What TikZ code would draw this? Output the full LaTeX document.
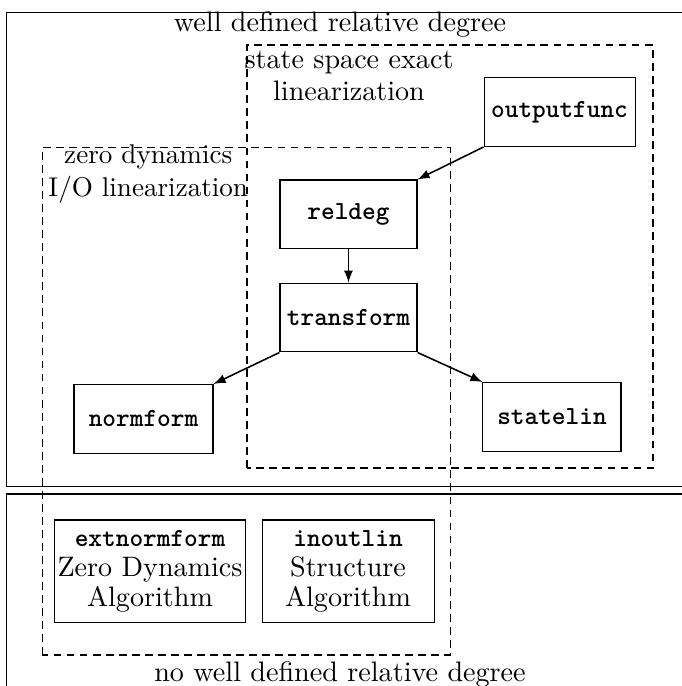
\documentclass[tikz,border=0pt]{standalone}
\usepackage{fontspec}
\usetikzlibrary{arrows,positioning}

\newcommand{\prog}[1]{{\fontsize{10}{11}\selectfont\ttfamily\bfseries #1}}

\begin{document}
\begin{tikzpicture}
	[
	font=\fontsize{10.8}{11.5}\selectfont,
	box/.style={rectangle,draw=black,fill=none,inner sep=1pt,minimum height=0.93cm},
	cmd/.style={font=\fontsize{10}{11}\selectfont\ttfamily\bfseries},
	label/.style={draw=none,fill=none,align=center,font=\fontsize{10.8}{12.5}\selectfont},
	region/.style={dash pattern=on 3pt off 2pt},
	arrow/.style={
           ->,
           >=latex,
           semithick}
	]
		\useasboundingbox (0,0) rectangle (9.2,9.254);

		% frames
		\draw (9.4,9.086) -- (0.094,9.086) -- (0.094,2.685) -- (9.4,2.685);
		\draw (9.4,2.590) -- (0.094,2.590) -- (0.094,-0.2);

		% dashed regions
		\draw[region] (3.332,2.941) rectangle (8.809,8.647);
		\draw[region] (0.567,0.418) rectangle (6.071,7.258);

		% labels
		\node[label] (l1) at 		(4.587, 8.917) {well defined relative degree};
		\node[label] (l2) at 		(4.708, 8.229) {state space exact\\linearization};
		\node[label,font=\fontsize{10.4}{12.5}\selectfont] (l3) at 		(2.000, 6.907) {zero dynamics\\I/O linearization};
		\node[label] (l4) at 		(4.587, 0.160) {no well defined relative degree};

		% nodes
		\node[box,cmd,minimum width=2.037cm] (out) at 	(7.548, 7.743) {outputfunc};
		\node[box,cmd,minimum width=1.848cm] (rel) at 	(4.701, 6.361) {reldeg};
		\node[box,cmd,minimum width=1.848cm] (trans) at (4.701, 4.971) {transform};
		\node[box,cmd,minimum width=1.875cm] (norm) at 	(1.936, 3.602) {normform};
		\node[box,cmd,minimum width=1.862cm] (state) at (7.446, 3.629) {statelin};
		\node[box,align=center,minimum width=2.509cm,minimum height=1.389cm] (ext) at 	(2.024, 1.545) {\prog{extnormform}\\Zero Dynamics\\Algorithm};
		\node[box,align=center,minimum width=2.320cm,minimum height=1.389cm] (io) at 	(4.695, 1.545) {\prog{inoutlin}\\Structure\\Algorithm};

		% arrows
		\foreach \from/\to in {out.south west/rel.north east,rel/trans,trans.south west/norm.north east,trans.south east/state.north west} \draw[arrow] (\from) -- (\to);

	\end{tikzpicture}
\end{document}
